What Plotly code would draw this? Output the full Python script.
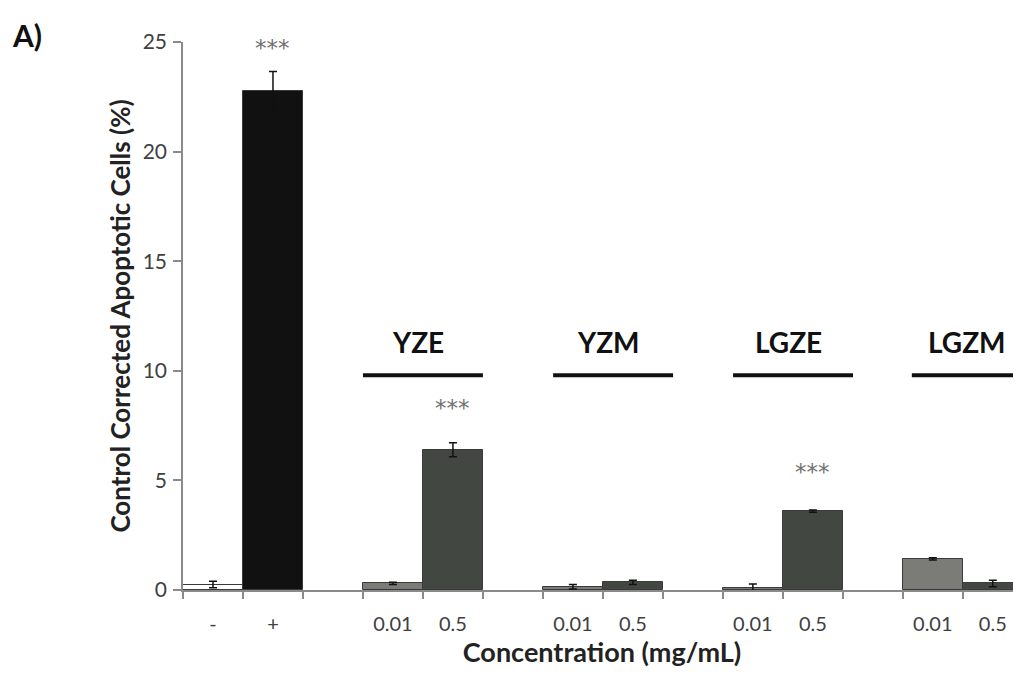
import plotly.graph_objects as go

# ---- data ----
categories = ["-", "+", "", "0.01", "0.5", "", "0.01", "0.5", "", "0.01", "0.5", "", "0.01", "0.5"]
values = [0.25, 22.75, None, 0.30, 6.40, None, 0.15, 0.35, None, 0.07, 3.60, None, 1.42, 0.30]
errors = [0.15, 0.90, None, 0.05, 0.32, None, 0.10, 0.10, None, 0.20, 0.05, None, 0.05, 0.15]
significant = [False, True, False, False, True, False, False, False, False, False, True, False, False, False]
groups = ["YZE", "YZM", "LGZE", "LGZM"]
group_members = [[3, 4], [6, 7], [9, 10], [12, 13]]
y_ticks = [0, 5, 10, 15, 20, 25]

# ---- styling ----
bar_colors = {"-": "#ffffff", "+": "#111111", "0.01": "#7b7b78", "0.5": "#434742"}
group_shift = [0.0, 0.17, 0.17, 0.15]
star_shift = {1: 24, 4: 35, 10: 38}
FONT = "Lato, 'Open Sans', sans-serif"

xs = [i for i, v in enumerate(values) if v is not None]
ys = [values[i] for i in xs]
es = [errors[i] for i in xs]
cols = [bar_colors[categories[i]] for i in xs]

fig = go.Figure()
fig.add_trace(go.Bar(
    x=xs, y=ys, width=1.0,
    marker=dict(color=cols, line=dict(color="#3a3a3a", width=1)),
    error_y=dict(type="data", array=es, visible=True, color="#111111", thickness=1.5, width=4),
    showlegend=False, hoverinfo="x+y",
))
# invisible trace to carry the boundary-tick axis
fig.add_trace(go.Scatter(x=[-0.5, 13.5], y=[0, 0], xaxis="x2", mode="lines",
                         line=dict(width=0), showlegend=False, hoverinfo="skip"))

xr = [-0.5, 13.47]
fig.update_layout(
    width=1013, height=660,
    margin=dict(l=175, r=0, t=34, b=76),
    paper_bgcolor="white", plot_bgcolor="white",
    font=dict(family=FONT, color="#404040"),
    bargap=0,
    xaxis=dict(
        range=xr, tickmode="array", tickvals=list(range(len(categories))), ticktext=categories,
        ticks="", showline=True, linecolor="#8a8a8a", linewidth=1.5, showgrid=False, zeroline=False,
        tickfont=dict(size=20, color="#404040"), ticklabelstandoff=15,
        title=dict(text="<b>Concentration (mg/mL)</b>", font=dict(size=27, color="#222222"), standoff=14),
    ),
    xaxis2=dict(
        range=xr, overlaying="x", anchor="y", side="bottom",
        tickmode="array", tickvals=[i - 0.5 for i in range(len(categories) + 1)],
        ticks="outside", ticklen=8, tickcolor="#8a8a8a", tickwidth=1.5,
        showticklabels=False, showgrid=False, zeroline=False, showline=False,
    ),
    yaxis=dict(
        range=[0, 25], tickmode="array", tickvals=y_ticks,
        ticks="outside", ticklen=8, tickcolor="#8a8a8a", tickwidth=1.5,
        showline=True, linecolor="#8a8a8a", linewidth=1.5, showgrid=False, zeroline=False,
        tickfont=dict(size=21, color="#404040"), ticklabelstandoff=2,
        title=dict(text="<b>Control Corrected Apoptotic Cells (%)</b>", font=dict(size=26, color="#222222"), standoff=5),
    ),
)

# significance stars
for i, flag in enumerate(significant):
    if flag:
        fig.add_annotation(x=i, y=values[i] + errors[i], yshift=star_shift[i], text="***", showarrow=False,
                           font=dict(family="DejaVu Sans", size=23, color="#707070"), yanchor="middle")

# group labels and bars
for g, members, sh in zip(groups, group_members, group_shift):
    x0 = members[0] - 0.5 + sh
    x1 = members[-1] + 0.5 + sh
    fig.add_shape(type="line", x0=x0, x1=x1, y0=9.8, y1=9.8, xref="x", yref="y",
                  line=dict(color="#111111", width=4))
    fig.add_annotation(x=(members[0] + members[-1]) / 2 + sh - 0.08, y=11.3, text="<b>" + g + "</b>",
                       showarrow=False, font=dict(size=28, color="#111111"), yanchor="middle")

fig.add_annotation(xref="paper", yref="paper", x=(2 - 175) / 838, y=1 + 7 / 550, text="<b>A)</b>",
                   showarrow=False, xanchor="left", yanchor="middle", font=dict(size=30, color="#111111"))

fig.write_html("out.html")
